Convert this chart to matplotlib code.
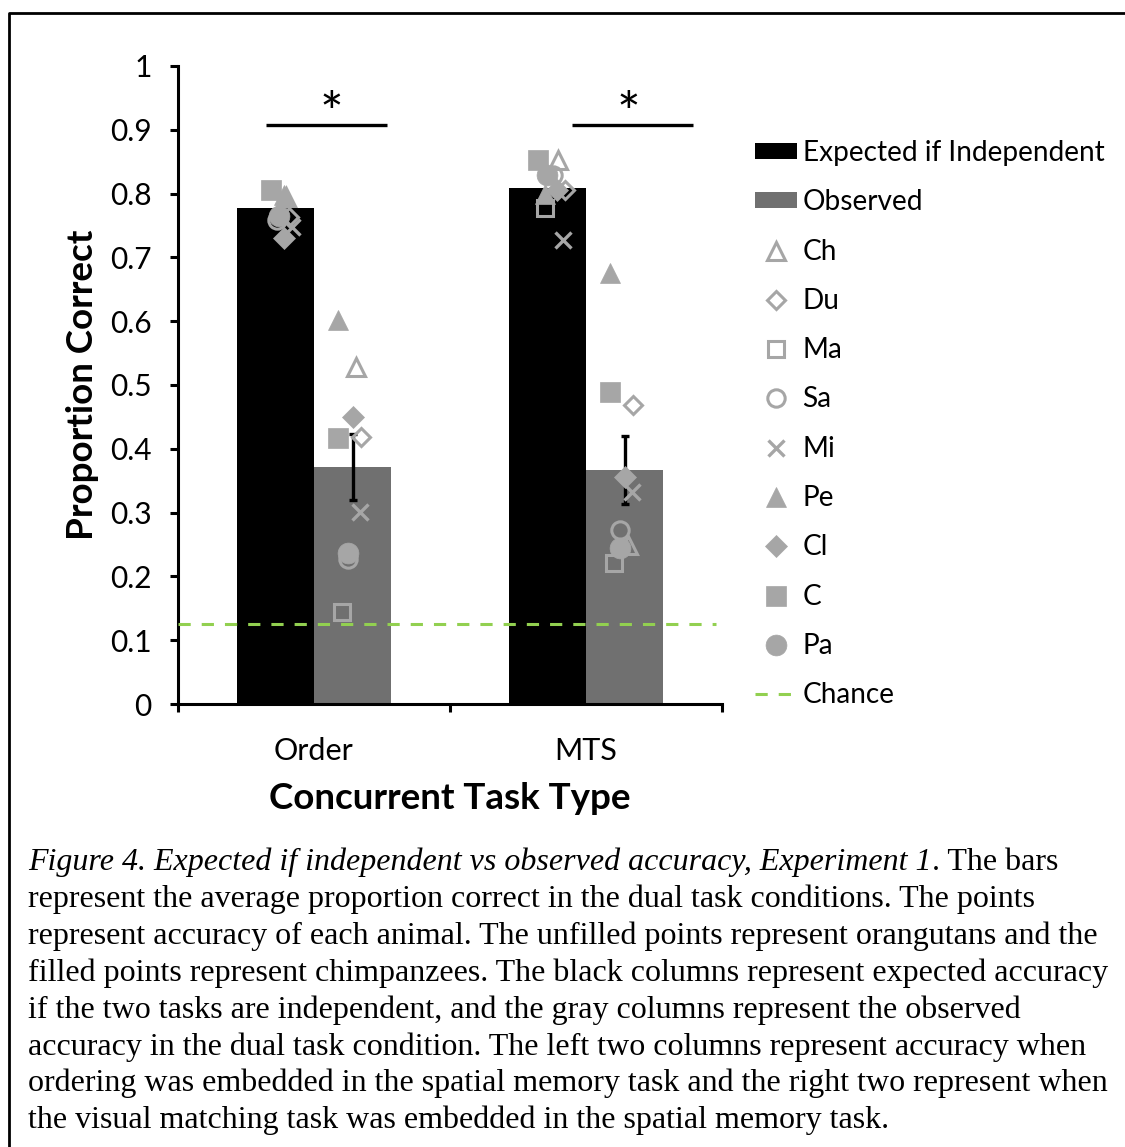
import matplotlib
matplotlib.use("Agg")
import matplotlib.pyplot as plt
from matplotlib.lines import Line2D
from matplotlib.patches import Patch

# 数据
categories = ["Order", "MTS"]
expected = [0.778, 0.809]
observed = [0.371, 0.367]
observed_err = [0.052, 0.053]
chance = 0.125

animals = ["Ch", "Du", "Ma", "Sa", "Mi", "Pe", "Cl", "C", "Pa"]
exp_order = [0.795, 0.763, 0.805, 0.759, 0.748, 0.798, 0.730, 0.806, 0.765]
exp_mts = [0.853, 0.806, 0.777, 0.829, 0.727, 0.800, 0.806, 0.853, 0.829]
obs_order = [0.528, 0.418, 0.144, 0.228, 0.301, 0.602, 0.450, 0.417, 0.237]
obs_mts = [0.250, 0.469, 0.221, 0.273, 0.332, 0.676, 0.356, 0.489, 0.245]

# 每个点的水平抖动 (类别单位)
jit_exp_order = [0.040, 0.050, -0.015, 0.007, 0.063, 0.033, 0.033, -0.015, 0.015]
jit_exp_mts = [0.040, 0.066, -0.007, 0.022, 0.059, -0.007, 0.037, -0.033, 0.000]
jit_obs = [0.011, 0.030, -0.040, -0.015, 0.026, -0.055, 0.000, -0.055, -0.015]

# 显著性标记 (相对于类别中心)
sig_spans = [(-0.175, 0.268), (-0.050, 0.395)]
sig_star_x = [0.065, 0.157]
sig_y = 0.907

caption_italic = "Figure 4. Expected if independent vs observed accuracy, Experiment 1"
caption_lines = [
    ". The bars",
    "represent the average proportion correct in the dual task conditions. The points",
    "represent accuracy of each animal. The unfilled points represent orangutans and the",
    "filled points represent chimpanzees. The black columns represent expected accuracy",
    "if the two tasks are independent, and the gray columns represent the observed",
    "accuracy in the dual task condition. The left two columns represent accuracy when",
    "ordering was embedded in the spatial memory task and the right two represent when",
    "the visual matching task was embedded in the spatial memory task.",
]

# 样式
GREY_PT = "#a6a6a6"
GREY_BAR = "#707070"
GREEN = "#92d050"
FONT = "Lato"
marker_styles = {
    "Ch": dict(marker="^", ms=12.5, mfc="none", mec=GREY_PT, mew=2.2),
    "Du": dict(marker="D", ms=9, mfc="none", mec=GREY_PT, mew=2.2),
    "Ma": dict(marker="s", ms=12, mfc="none", mec=GREY_PT, mew=2.2),
    "Sa": dict(marker="o", ms=12.5, mfc="none", mec=GREY_PT, mew=2.2),
    "Mi": dict(marker="x", ms=12, mec=GREY_PT, mew=2.4),
    "Pe": dict(marker="^", ms=15, mfc=GREY_PT, mec=GREY_PT, mew=0.5),
    "Cl": dict(marker="D", ms=11, mfc=GREY_PT, mec=GREY_PT, mew=0.5),
    "C": dict(marker="s", ms=15, mfc=GREY_PT, mec=GREY_PT, mew=0.5),
    "Pa": dict(marker="o", ms=15, mfc=GREY_PT, mec=GREY_PT, mew=0.5),
}

plt.rcParams["font.family"] = FONT

fig = plt.figure(figsize=(11.25, 11.47), dpi=100)
ax = fig.add_axes([0.1582, 0.3862, 0.4835, 0.5563])

x = [0, 1]
bw = 0.284
ax.bar([i - bw / 2 for i in x], expected, width=bw, color="black", zorder=2)
ax.bar([i + bw / 2 for i in x], observed, width=bw, color=GREY_BAR, zorder=2)
ax.errorbar([i + bw / 2 for i in x], observed, yerr=observed_err, fmt="none",
            ecolor="black", elinewidth=2.4, capsize=2.6, capthick=2.4, zorder=3)

ax.axhline(chance, xmin=0, xmax=0.99, color=GREEN, lw=2.2, dashes=(4, 3.6), zorder=3)

series = [
    (0 - bw / 2, exp_order, jit_exp_order),
    (0 + bw / 2, obs_order, jit_obs),
    (1 - bw / 2, exp_mts, jit_exp_mts),
    (1 + bw / 2, obs_mts, jit_obs),
]
for cx, vals, jit in series:
    for k, name in enumerate(animals):
        ax.plot(cx + jit[k], vals[k], ls="none", zorder=4, **marker_styles[name])

for i, ((a, b), sx) in enumerate(zip(sig_spans, sig_star_x)):
    ax.plot([i + a, i + b], [sig_y, sig_y], color="black", lw=2.4, solid_capstyle="butt")
    ax.text(i + sx, sig_y - 0.01, "*", ha="center", va="baseline", fontsize=40)

ax.set_xlim(-0.5, 1.5)
ax.set_ylim(0, 1)
ax.set_yticks([i / 10 for i in range(11)])
ax.set_yticklabels(["0"] + ["%.1f" % (i / 10) for i in range(1, 10)] + ["1"])
ax.set_xticks([-0.5, 0.5, 1.5])
ax.set_xticklabels([])
ax.set_xticks(x, minor=True)
ax.set_xticklabels(categories, minor=True)
ax.tick_params(axis="x", which="minor", length=0, pad=24, labelsize=22)
ax.tick_params(axis="x", which="major", direction="out", length=6, width=2.2)
ax.tick_params(axis="y", direction="out", length=6, width=2.2, pad=13, labelsize=21.5)
for s in ["top", "right"]:
    ax.spines[s].set_visible(False)
for s in ["left", "bottom"]:
    ax.spines[s].set_linewidth(2.2)

ax.set_ylabel("Proportion Correct", fontsize=26.5, fontweight="bold", labelpad=8)
ax.set_xlabel("Concurrent Task Type", fontsize=26.5, fontweight="bold", labelpad=12)

handles = [Patch(facecolor="black"), Patch(facecolor=GREY_BAR)]
for name in animals:
    handles.append(Line2D([], [], ls="none", **marker_styles[name]))
handles.append(Line2D([], [], color=GREEN, lw=2.2, dashes=(4, 3.6)))
labels = ["Expected if Independent", "Observed"] + animals + ["Chance"]
fig.legend(handles, labels, loc="upper left", bbox_to_anchor=(0.671, 0.878),
           frameon=False, fontsize=20.2, handlelength=1.5, handleheight=0.5,
           handletextpad=0.2, labelspacing=0.83, borderaxespad=0, borderpad=0)

# 外框
fig.add_artist(Line2D([9 / 1125, 9 / 1125, 1], [0, 1 - 13 / 1147, 1 - 13 / 1147],
                      transform=fig.transFigure, color="black", lw=2))

# 图注
cap_x = 28 / 1125
base0 = 870
step = 36.9
t0 = fig.text(cap_x, 1 - base0 / 1147, caption_italic, family="Liberation Serif",
              style="italic", fontsize=23, va="baseline")
fig.canvas.draw()
ext = t0.get_window_extent(fig.canvas.get_renderer())
for i, line in enumerate(caption_lines):
    xx = ext.x1 / fig.bbox.width if i == 0 else cap_x
    fig.text(xx, 1 - (base0 + i * step) / 1147, line, family="Liberation Serif",
             fontsize=23, va="baseline")

fig.savefig("out.png", dpi=100)
